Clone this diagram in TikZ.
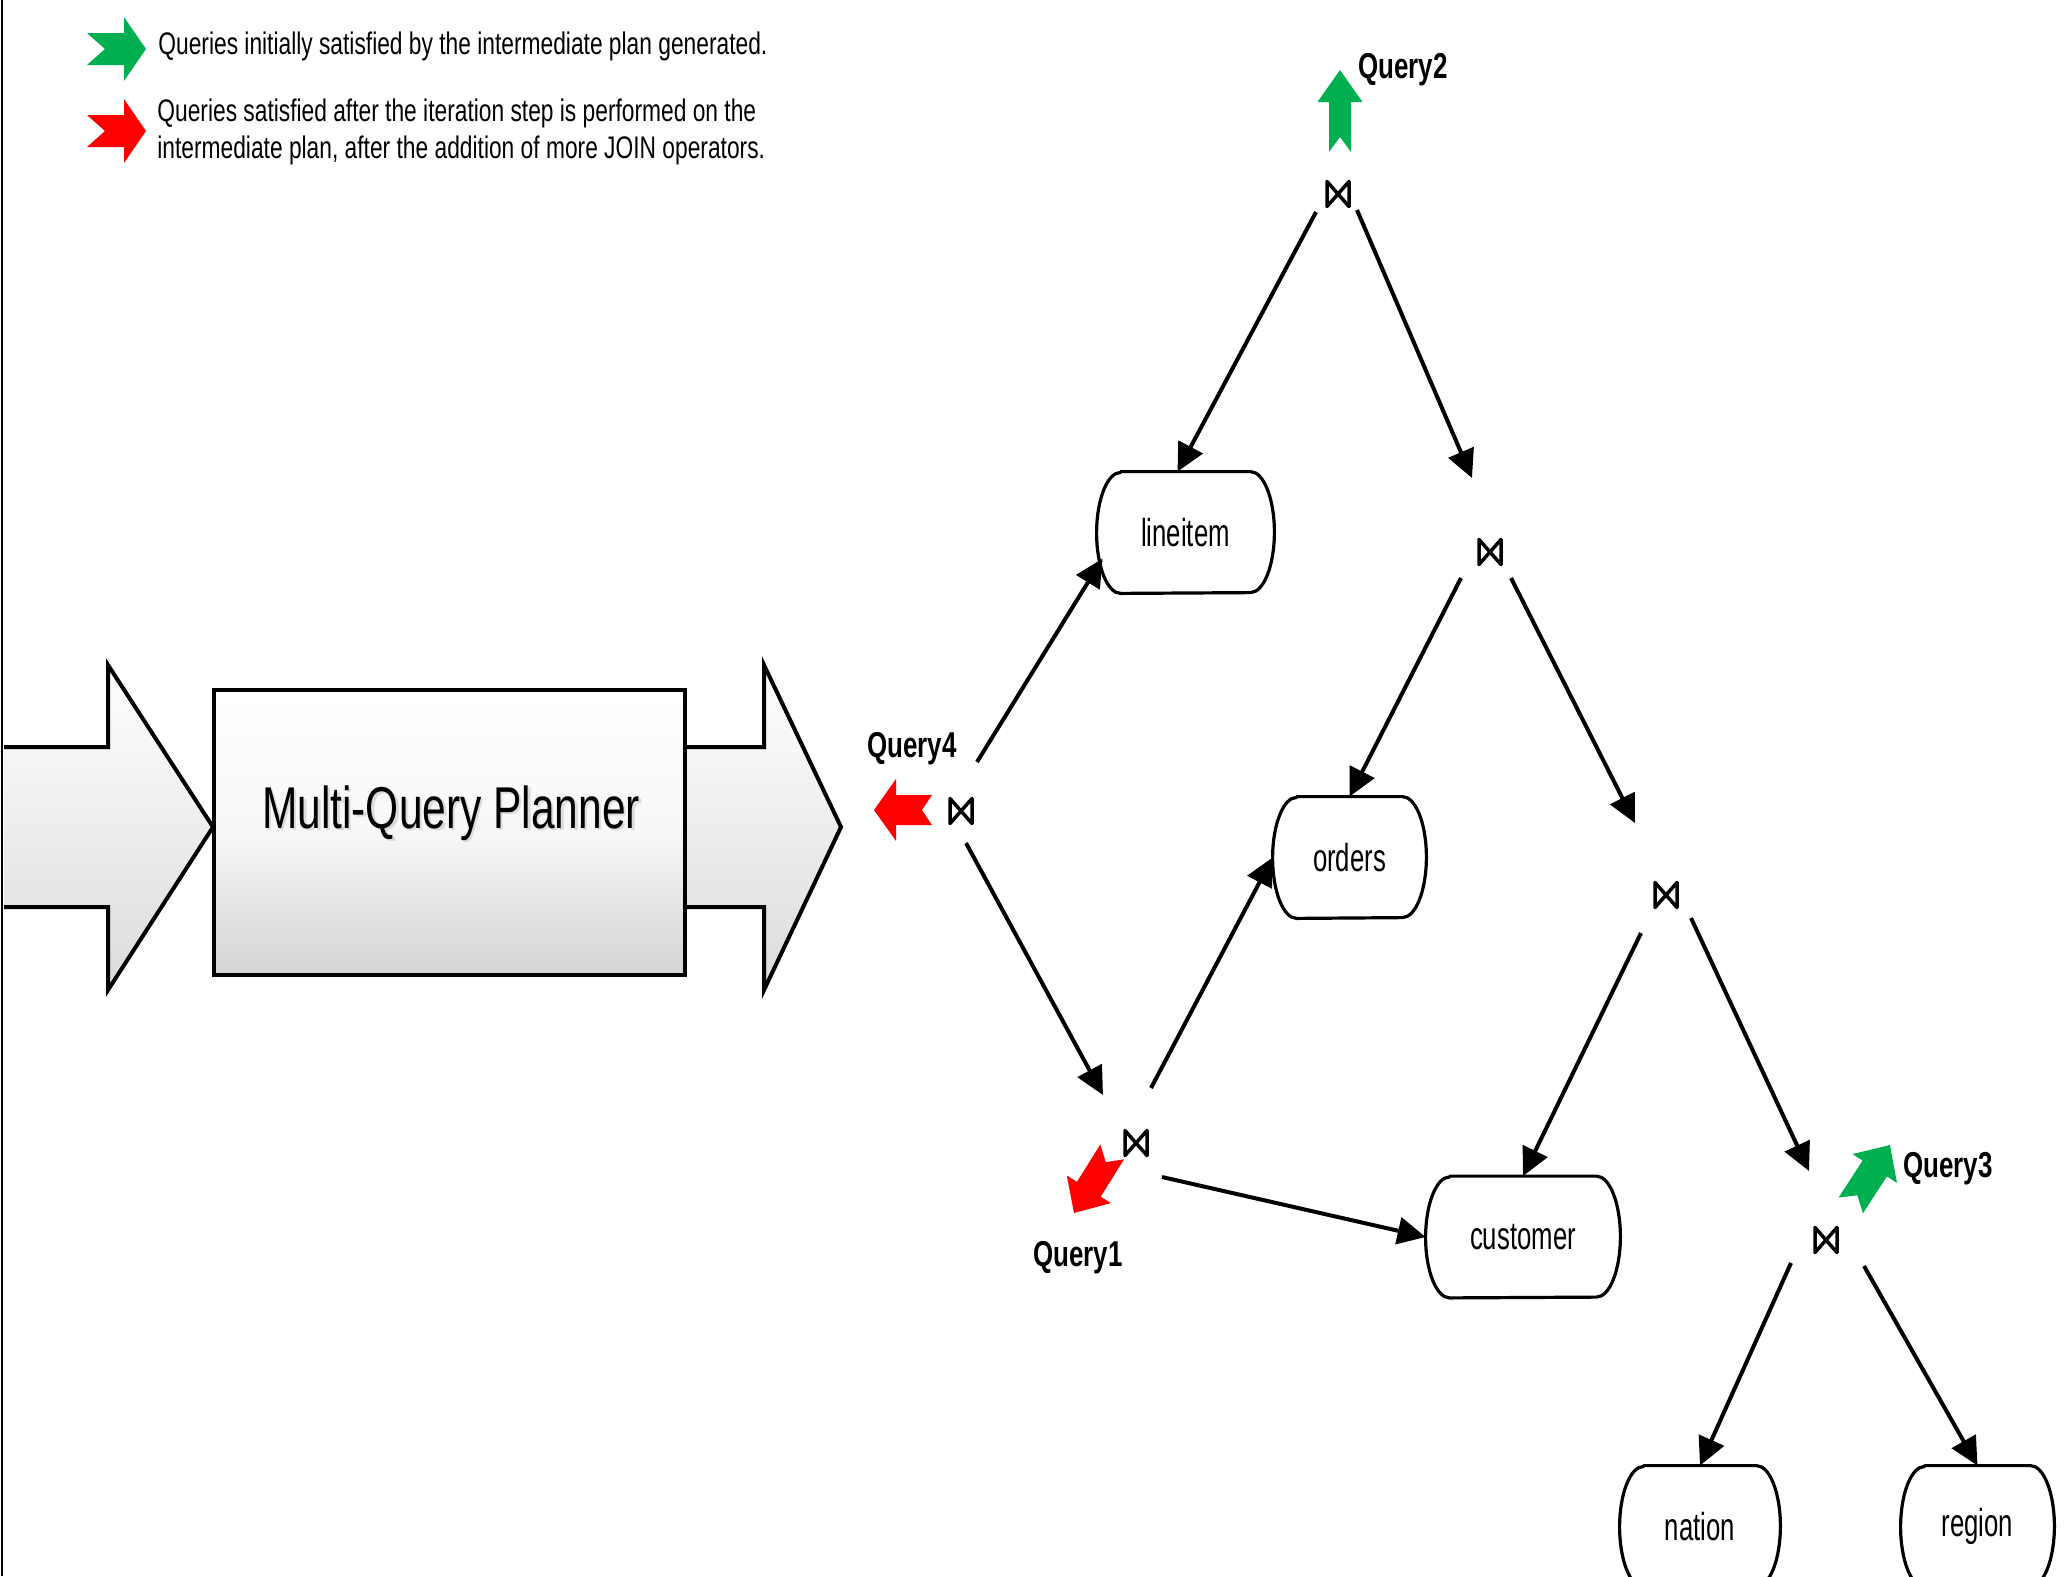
\documentclass[tikz,border=0pt]{standalone}
\usepackage{fontspec}
\setmainfont{Liberation Sans}
\newfontfamily\narrowfont[FakeStretch=0.72]{Liberation Sans}
\newfontfamily\tablefont[FakeStretch=0.66]{Liberation Sans}
\newfontfamily\legendfont[FakeStretch=0.73]{Liberation Sans}
\usetikzlibrary{arrows.meta,calc}

\definecolor{qgreen}{RGB}{0,176,80}
\definecolor{qred}{RGB}{255,0,0}

% notched flag arrow pointing along +x, tip at the origin
% #1 fill, #2 total length, #3 head length, #4 head half-width, #5 shaft half-width, #6 notch depth
\newcommand\flagarrow[6]{%
  \fill[#1] (0,0) -- (-#3,#4) -- (-#3,#5) -- (-#2,#5) -- ({-#2+#6},0)
    -- (-#2,-#5) -- (-#3,-#5) -- (-#3,-#4) -- cycle;}

\tikzset{
  edge/.style={line width=2pt, -{Triangle[length=14pt,width=13.5pt]}},
  tbl/.style={minimum height=60.5pt, inner sep=0pt,
    font=\tablefont\fontsize{19.5pt}{22pt}\selectfont},
  tblline/.style={line width=1.6pt, line join=round},
  joinsym/.style={line width=1.75pt, line join=round, line cap=round},
  qlabel/.style={font=\narrowfont\bfseries\fontsize{18pt}{20pt}\selectfont,
    anchor=base west, inner sep=0pt},
  legtext/.style={font=\legendfont\fontsize{15.6pt}{18pt}\selectfont,
    anchor=base west, inner sep=0pt},
  bigarrow/.style={draw, line width=2pt, line join=miter,
    top color=white, bottom color=black!14},
  plannerbox/.style={draw, line width=2.2pt, minimum width=235.5pt,
    minimum height=142.5pt, inner sep=0pt,
    top color=white, bottom color=black!17, middle color=white!97!black},
  titlefont/.style={font=\narrowfont\fontsize{29.5pt}{34pt}\selectfont,
    anchor=base, inner sep=0pt},
}

\begin{document}
\begin{tikzpicture}[x=0.5pt,y=-0.5pt]
\useasboundingbox (0,0) rectangle (2068,1576);

% frame line on the left
\draw[line width=1.2pt] (2,0) -- (2,1576);

% ---------- legend ----------
\begin{scope}[shift={(146,49)}]
  \flagarrow{qgreen}{59}{22}{32}{16}{18}
\end{scope}
\begin{scope}[shift={(146,131)}]
  \flagarrow{qred}{59}{22}{32}{16}{18}
\end{scope}
\node[legtext] (leg1) at (158,54)
  {Queries initially satisfied by the intermediate plan generated.};
\node[legtext] (leg2) at (157,121)
  {Queries satisfied after the iteration step is performed on the};
\node[legtext] (leg3) at (157,158)
  {intermediate plan, after the addition of more JOIN operators.};

% ---------- planner block with input and output arrows ----------
\coordinate (inTip) at (213,827);
\coordinate (outTip) at (841,827);
\draw[bigarrow] (4,747) -- (108,747) -- (108,665) -- (inTip)
  -- (108,990) -- (108,907) -- (4,907);
\draw[bigarrow] (686,747) -- (764,747) -- (764,665) -- (outTip)
  -- (764,990) -- (764,907) -- (686,907);
\node[plannerbox] (mqp) at (449.5,832.5) {};
\node[titlefont, text=black!40, opacity=0.3] (titleshadow) at (453.5,830.5) {Multi-Query Planner};
\node[titlefont] (title) at (451,828) {Multi-Query Planner};

% ---------- base tables ----------
\node[tbl, minimum width=88.5pt] (lineitem) at (1185.5,532.5) {lineitem};
\node[tbl, minimum width=76.5pt] (orders)   at (1349.5,857.5) {orders};
\node[tbl, minimum width=97pt]   (customer) at (1523,1237)    {customer};
\node[tbl, minimum width=80pt]   (nation)   at (1700,1526.5)  {nation};
\node[tbl, minimum width=76.5pt] (region)   at (1977.5,1526.5){region};

\foreach \n in {lineitem,orders,customer,nation,region}{
  \draw[tblline] ($(\n.north west)+(24,0)$) -- ($(\n.north east)+(-24,0)$)
    arc[start angle=90, end angle=-90, x radius=12pt, y radius=30.25pt]
    -- ($(\n.south west)+(24,0)$)
    arc[start angle=270, end angle=90, x radius=12pt, y radius=30.25pt]
    -- cycle;
}

% ---------- join operators ----------
\coordinate (J2) at (1338,194);
\coordinate (Ja) at (1490,552);
\coordinate (Jb) at (1666,895);
\coordinate (J3) at (1826,1240);
\coordinate (J4) at (961,811);
\coordinate (J1) at (1136,1143);
\foreach \n in {J1,J2,J3,J4,Ja,Jb}{
  \draw[joinsym] ($(\n)+(-11,-12.5)$) -- ($(\n)+(11,12.5)$)
    -- ($(\n)+(11,-12.5)$) -- ($(\n)+(-11,12.5)$) -- cycle;
}

% ---------- plan edges ----------
\draw[edge] ($(J2)+(-22,18)$) -- ($(lineitem.north)+(-8,0)$);
\draw[edge] ($(J2)+(19,16)$)  -- ($(Ja)+(-18,-74)$);
\draw[edge] ($(Ja)+(-29,26)$) -- (orders.north);
\draw[edge] ($(Ja)+(21,26)$)  -- ($(Jb)+(-31,-72)$);
\draw[edge] ($(Jb)+(-25,38)$) -- (customer.north);
\draw[edge] ($(Jb)+(25,23)$)  -- ($(J3)+(-17,-69)$);
\draw[edge] ($(J3)+(-35,23)$) -- (nation.north);
\draw[edge] ($(J3)+(38,26)$)  -- (region.north);
\draw[edge] ($(J4)+(16,-49)$) -- ($(lineitem.west)+(6,26)$);
\draw[edge] ($(J4)+(5,32)$)   -- ($(J1)+(-33,-48)$);
\draw[edge] ($(J1)+(15,-55)$) -- (orders.west);
\draw[edge] ($(J1)+(26,34)$)  -- (customer.west);

% ---------- query markers ----------
\begin{scope}[shift={(1340,70)}, rotate=90]
  \flagarrow{qgreen}{82}{32}{22.5}{11}{15}
\end{scope}
\begin{scope}[shift={(874,810)}, rotate=180]
  \flagarrow{qred}{58}{22}{31}{15}{10}
\end{scope}
\begin{scope}[shift={(1074,1213)}, rotate=238]
  \flagarrow{qred}{72}{28}{26}{14}{12}
\end{scope}
\begin{scope}[shift={(1890,1145)}, rotate=57]
  \flagarrow{qgreen}{72}{28}{26.5}{14.5}{12}
\end{scope}

\node[qlabel] (q2) at (1358,78)   {Query2};
\node[qlabel] (q4) at (867,757)   {Query4};
\node[qlabel] (q1) at (1033,1266) {Query1};
\node[qlabel] (q3) at (1903,1177) {Query3};
\end{tikzpicture}
\end{document}
